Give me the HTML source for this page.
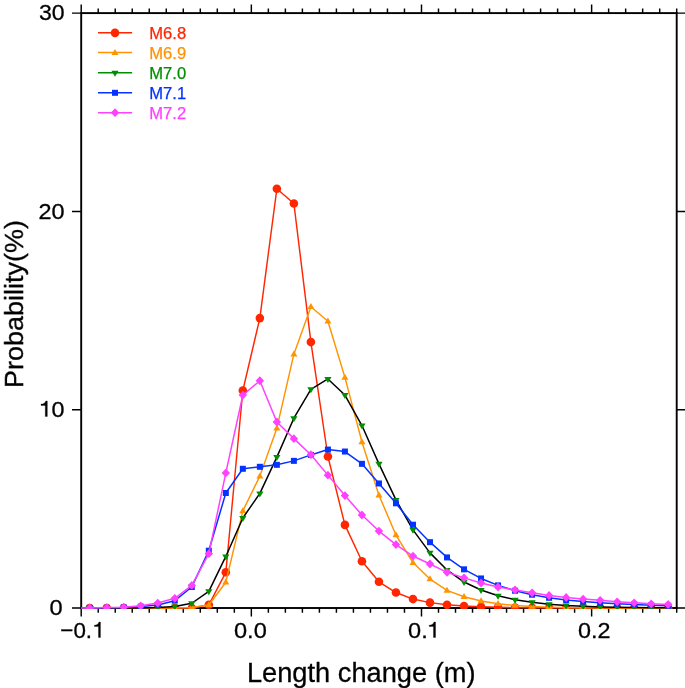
<!DOCTYPE html>
<html><head><meta charset="utf-8"><title>Length change probability</title>
<style>html,body{margin:0;padding:0;background:#fff;}body{width:685px;height:688px;overflow:hidden;font-family:"Liberation Sans",sans-serif;}svg{display:block}</style>
</head><body>
<svg width="685" height="688" viewBox="0 0 685 688" font-family="Liberation Sans, sans-serif" fill="#000">
<defs><clipPath id="clip"><rect x="81.2" y="13.1" width="595.50" height="595.90"/></clipPath></defs>
<rect width="685" height="688" fill="#fff"/>
<rect x="81.2" y="13.1" width="595.50" height="594.90" fill="none" stroke="#000" stroke-width="1.9"/>
<path d="M81.20 608.0v8.6 M81.20 13.1v-8.6 M98.21 608.0v4.7 M98.21 13.1v-4.7 M115.23 608.0v4.7 M115.23 13.1v-4.7 M132.24 608.0v4.7 M132.24 13.1v-4.7 M149.26 608.0v4.7 M149.26 13.1v-4.7 M166.27 608.0v4.7 M166.27 13.1v-4.7 M183.29 608.0v4.7 M183.29 13.1v-4.7 M200.30 608.0v4.7 M200.30 13.1v-4.7 M217.31 608.0v4.7 M217.31 13.1v-4.7 M234.33 608.0v4.7 M234.33 13.1v-4.7 M251.34 608.0v8.6 M251.34 13.1v-8.6 M268.36 608.0v4.7 M268.36 13.1v-4.7 M285.37 608.0v4.7 M285.37 13.1v-4.7 M302.39 608.0v4.7 M302.39 13.1v-4.7 M319.40 608.0v4.7 M319.40 13.1v-4.7 M336.41 608.0v4.7 M336.41 13.1v-4.7 M353.43 608.0v4.7 M353.43 13.1v-4.7 M370.44 608.0v4.7 M370.44 13.1v-4.7 M387.46 608.0v4.7 M387.46 13.1v-4.7 M404.47 608.0v4.7 M404.47 13.1v-4.7 M421.49 608.0v8.6 M421.49 13.1v-8.6 M438.50 608.0v4.7 M438.50 13.1v-4.7 M455.51 608.0v4.7 M455.51 13.1v-4.7 M472.53 608.0v4.7 M472.53 13.1v-4.7 M489.54 608.0v4.7 M489.54 13.1v-4.7 M506.56 608.0v4.7 M506.56 13.1v-4.7 M523.57 608.0v4.7 M523.57 13.1v-4.7 M540.59 608.0v4.7 M540.59 13.1v-4.7 M557.60 608.0v4.7 M557.60 13.1v-4.7 M574.61 608.0v4.7 M574.61 13.1v-4.7 M591.63 608.0v8.6 M591.63 13.1v-8.6 M608.64 608.0v4.7 M608.64 13.1v-4.7 M625.66 608.0v4.7 M625.66 13.1v-4.7 M642.67 608.0v4.7 M642.67 13.1v-4.7 M659.69 608.0v4.7 M659.69 13.1v-4.7 M676.70 608.0v4.7 M676.70 13.1v-4.7 M81.2 608.00h-9.2 M676.7 608.00h9.2 M81.2 409.70h-9.2 M676.7 409.70h9.2 M81.2 211.40h-9.2 M676.7 211.40h9.2 M81.2 13.10h-9.2 M676.7 13.10h9.2" stroke="#000" stroke-width="1.45" fill="none"/>
<g clip-path="url(#clip)">
<polyline points="72.69,608.00 89.71,608.00 106.72,608.00 123.74,608.00 140.75,608.00 157.76,608.00 174.78,608.00 191.79,608.00 208.81,604.83 225.82,572.31 242.84,390.46 259.85,318.09 276.86,188.79 293.88,203.47 310.89,342.08 327.91,456.50 344.92,524.91 361.94,561.20 378.95,581.82 395.96,592.53 412.98,599.08 429.99,602.65 447.01,604.83 464.02,606.02 481.04,606.81 498.05,607.31 515.06,607.60 532.08,607.76 549.09,607.84 566.11,607.90 583.12,607.94 600.14,607.96 617.15,608.00 634.16,608.00 651.18,608.00 668.19,608.00" fill="none" stroke="#ff2600" stroke-width="1.45" stroke-linejoin="round"/>
<circle cx="89.71" cy="608.00" r="4.3" fill="#ff2600"/>
<circle cx="106.72" cy="608.00" r="4.3" fill="#ff2600"/>
<circle cx="123.74" cy="608.00" r="4.3" fill="#ff2600"/>
<circle cx="140.75" cy="608.00" r="4.3" fill="#ff2600"/>
<circle cx="157.76" cy="608.00" r="4.3" fill="#ff2600"/>
<circle cx="174.78" cy="608.00" r="4.3" fill="#ff2600"/>
<circle cx="191.79" cy="608.00" r="4.3" fill="#ff2600"/>
<circle cx="208.81" cy="604.83" r="4.3" fill="#ff2600"/>
<circle cx="225.82" cy="572.31" r="4.3" fill="#ff2600"/>
<circle cx="242.84" cy="390.46" r="4.3" fill="#ff2600"/>
<circle cx="259.85" cy="318.09" r="4.3" fill="#ff2600"/>
<circle cx="276.86" cy="188.79" r="4.3" fill="#ff2600"/>
<circle cx="293.88" cy="203.47" r="4.3" fill="#ff2600"/>
<circle cx="310.89" cy="342.08" r="4.3" fill="#ff2600"/>
<circle cx="327.91" cy="456.50" r="4.3" fill="#ff2600"/>
<circle cx="344.92" cy="524.91" r="4.3" fill="#ff2600"/>
<circle cx="361.94" cy="561.20" r="4.3" fill="#ff2600"/>
<circle cx="378.95" cy="581.82" r="4.3" fill="#ff2600"/>
<circle cx="395.96" cy="592.53" r="4.3" fill="#ff2600"/>
<circle cx="412.98" cy="599.08" r="4.3" fill="#ff2600"/>
<circle cx="429.99" cy="602.65" r="4.3" fill="#ff2600"/>
<circle cx="447.01" cy="604.83" r="4.3" fill="#ff2600"/>
<circle cx="464.02" cy="606.02" r="4.3" fill="#ff2600"/>
<circle cx="481.04" cy="606.81" r="4.3" fill="#ff2600"/>
<circle cx="498.05" cy="607.31" r="4.3" fill="#ff2600"/>
<circle cx="515.06" cy="607.60" r="4.3" fill="#ff2600"/>
<circle cx="532.08" cy="607.76" r="4.3" fill="#ff2600"/>
<circle cx="549.09" cy="607.84" r="4.3" fill="#ff2600"/>
<circle cx="566.11" cy="607.90" r="4.3" fill="#ff2600"/>
<circle cx="583.12" cy="607.94" r="4.3" fill="#ff2600"/>
<circle cx="600.14" cy="607.96" r="4.3" fill="#ff2600"/>
<circle cx="617.15" cy="608.00" r="4.3" fill="#ff2600"/>
<circle cx="634.16" cy="608.00" r="4.3" fill="#ff2600"/>
<circle cx="651.18" cy="608.00" r="4.3" fill="#ff2600"/>
<circle cx="668.19" cy="608.00" r="4.3" fill="#ff2600"/>
<polyline points="72.69,608.00 89.71,608.00 106.72,608.00 123.74,608.00 140.75,608.00 157.76,608.00 174.78,607.90 191.79,607.41 208.81,605.03 225.82,582.22 242.84,510.83 259.85,476.13 276.86,428.14 293.88,354.18 310.89,306.78 327.91,321.26 344.92,377.38 361.94,442.02 378.95,495.17 395.96,535.03 412.98,562.59 429.99,579.05 447.01,590.35 464.02,596.70 481.04,601.06 498.05,603.74 515.06,605.42 532.08,606.41 549.09,607.11 566.11,607.56 583.12,607.76 600.14,607.88 617.15,607.94 634.16,607.96 651.18,607.98 668.19,608.00" fill="none" stroke="#ff9300" stroke-width="1.45" stroke-linejoin="round"/>
<path d="M86.21 610.30L93.21 610.30L89.71 604.30Z" fill="#ff9300"/>
<path d="M103.22 610.30L110.22 610.30L106.72 604.30Z" fill="#ff9300"/>
<path d="M120.24 610.30L127.24 610.30L123.74 604.30Z" fill="#ff9300"/>
<path d="M137.25 610.30L144.25 610.30L140.75 604.30Z" fill="#ff9300"/>
<path d="M154.26 610.30L161.26 610.30L157.76 604.30Z" fill="#ff9300"/>
<path d="M171.28 610.20L178.28 610.20L174.78 604.20Z" fill="#ff9300"/>
<path d="M188.29 609.71L195.29 609.71L191.79 603.71Z" fill="#ff9300"/>
<path d="M205.31 607.33L212.31 607.33L208.81 601.33Z" fill="#ff9300"/>
<path d="M222.32 584.52L229.32 584.52L225.82 578.52Z" fill="#ff9300"/>
<path d="M239.34 513.13L246.34 513.13L242.84 507.13Z" fill="#ff9300"/>
<path d="M256.35 478.43L263.35 478.43L259.85 472.43Z" fill="#ff9300"/>
<path d="M273.36 430.44L280.36 430.44L276.86 424.44Z" fill="#ff9300"/>
<path d="M290.38 356.48L297.38 356.48L293.88 350.48Z" fill="#ff9300"/>
<path d="M307.39 309.08L314.39 309.08L310.89 303.08Z" fill="#ff9300"/>
<path d="M324.41 323.56L331.41 323.56L327.91 317.56Z" fill="#ff9300"/>
<path d="M341.42 379.68L348.42 379.68L344.92 373.68Z" fill="#ff9300"/>
<path d="M358.44 444.32L365.44 444.32L361.94 438.32Z" fill="#ff9300"/>
<path d="M375.45 497.47L382.45 497.47L378.95 491.47Z" fill="#ff9300"/>
<path d="M392.46 537.33L399.46 537.33L395.96 531.33Z" fill="#ff9300"/>
<path d="M409.48 564.89L416.48 564.89L412.98 558.89Z" fill="#ff9300"/>
<path d="M426.49 581.35L433.49 581.35L429.99 575.35Z" fill="#ff9300"/>
<path d="M443.51 592.65L450.51 592.65L447.01 586.65Z" fill="#ff9300"/>
<path d="M460.52 599.00L467.52 599.00L464.02 593.00Z" fill="#ff9300"/>
<path d="M477.54 603.36L484.54 603.36L481.04 597.36Z" fill="#ff9300"/>
<path d="M494.55 606.04L501.55 606.04L498.05 600.04Z" fill="#ff9300"/>
<path d="M511.56 607.72L518.56 607.72L515.06 601.72Z" fill="#ff9300"/>
<path d="M528.58 608.71L535.58 608.71L532.08 602.71Z" fill="#ff9300"/>
<path d="M545.59 609.41L552.59 609.41L549.09 603.41Z" fill="#ff9300"/>
<path d="M562.61 609.86L569.61 609.86L566.11 603.86Z" fill="#ff9300"/>
<path d="M579.62 610.06L586.62 610.06L583.12 604.06Z" fill="#ff9300"/>
<path d="M596.64 610.18L603.64 610.18L600.14 604.18Z" fill="#ff9300"/>
<path d="M613.65 610.24L620.65 610.24L617.15 604.24Z" fill="#ff9300"/>
<path d="M630.66 610.26L637.66 610.26L634.16 604.26Z" fill="#ff9300"/>
<path d="M647.68 610.28L654.68 610.28L651.18 604.28Z" fill="#ff9300"/>
<path d="M664.69 610.30L671.69 610.30L668.19 604.30Z" fill="#ff9300"/>
<polyline points="72.69,608.00 89.71,608.00 106.72,608.00 123.74,608.00 140.75,607.90 157.76,607.60 174.78,606.41 191.79,603.24 208.81,591.34 225.82,556.44 242.84,517.97 259.85,493.38 276.86,457.09 293.88,418.23 310.89,389.28 327.91,378.96 344.92,395.03 361.94,425.56 378.95,463.84 395.96,499.93 412.98,529.87 429.99,552.87 447.01,569.93 464.02,582.02 481.04,589.95 498.05,595.71 515.06,599.67 532.08,602.35 549.09,604.33 566.11,605.52 583.12,606.31 600.14,606.91 617.15,607.27 634.16,607.50 651.18,607.66 668.19,607.78" fill="none" stroke="#000000" stroke-width="1.5" stroke-linejoin="round"/>
<path d="M86.11 606.00L93.31 606.00L89.71 612.00Z" fill="#008f00"/>
<path d="M103.12 606.00L110.32 606.00L106.72 612.00Z" fill="#008f00"/>
<path d="M120.14 606.00L127.34 606.00L123.74 612.00Z" fill="#008f00"/>
<path d="M137.15 605.90L144.35 605.90L140.75 611.90Z" fill="#008f00"/>
<path d="M154.16 605.60L161.36 605.60L157.76 611.60Z" fill="#008f00"/>
<path d="M171.18 604.41L178.38 604.41L174.78 610.41Z" fill="#008f00"/>
<path d="M188.19 601.24L195.39 601.24L191.79 607.24Z" fill="#008f00"/>
<path d="M205.21 589.34L212.41 589.34L208.81 595.34Z" fill="#008f00"/>
<path d="M222.22 554.44L229.42 554.44L225.82 560.44Z" fill="#008f00"/>
<path d="M239.24 515.97L246.44 515.97L242.84 521.97Z" fill="#008f00"/>
<path d="M256.25 491.38L263.45 491.38L259.85 497.38Z" fill="#008f00"/>
<path d="M273.26 455.09L280.46 455.09L276.86 461.09Z" fill="#008f00"/>
<path d="M290.28 416.23L297.48 416.23L293.88 422.23Z" fill="#008f00"/>
<path d="M307.29 387.28L314.49 387.28L310.89 393.28Z" fill="#008f00"/>
<path d="M324.31 376.96L331.51 376.96L327.91 382.96Z" fill="#008f00"/>
<path d="M341.32 393.03L348.52 393.03L344.92 399.03Z" fill="#008f00"/>
<path d="M358.34 423.56L365.54 423.56L361.94 429.56Z" fill="#008f00"/>
<path d="M375.35 461.84L382.55 461.84L378.95 467.84Z" fill="#008f00"/>
<path d="M392.36 497.93L399.56 497.93L395.96 503.93Z" fill="#008f00"/>
<path d="M409.38 527.87L416.58 527.87L412.98 533.87Z" fill="#008f00"/>
<path d="M426.39 550.87L433.59 550.87L429.99 556.87Z" fill="#008f00"/>
<path d="M443.41 567.93L450.61 567.93L447.01 573.93Z" fill="#008f00"/>
<path d="M460.42 580.02L467.62 580.02L464.02 586.02Z" fill="#008f00"/>
<path d="M477.44 587.95L484.64 587.95L481.04 593.95Z" fill="#008f00"/>
<path d="M494.45 593.71L501.65 593.71L498.05 599.71Z" fill="#008f00"/>
<path d="M511.46 597.67L518.66 597.67L515.06 603.67Z" fill="#008f00"/>
<path d="M528.48 600.35L535.68 600.35L532.08 606.35Z" fill="#008f00"/>
<path d="M545.49 602.33L552.69 602.33L549.09 608.33Z" fill="#008f00"/>
<path d="M562.51 603.52L569.71 603.52L566.11 609.52Z" fill="#008f00"/>
<path d="M579.52 604.31L586.72 604.31L583.12 610.31Z" fill="#008f00"/>
<path d="M596.54 604.91L603.74 604.91L600.14 610.91Z" fill="#008f00"/>
<path d="M613.55 605.27L620.75 605.27L617.15 611.27Z" fill="#008f00"/>
<path d="M630.56 605.50L637.76 605.50L634.16 611.50Z" fill="#008f00"/>
<path d="M647.58 605.66L654.78 605.66L651.18 611.66Z" fill="#008f00"/>
<path d="M664.59 605.78L671.79 605.78L668.19 611.78Z" fill="#008f00"/>
<polyline points="72.69,607.92 89.71,607.90 106.72,607.80 123.74,607.41 140.75,606.61 157.76,605.03 174.78,600.66 191.79,586.98 208.81,550.69 225.82,492.99 242.84,468.79 259.85,466.81 276.86,464.83 293.88,460.86 310.89,454.91 327.91,449.56 344.92,451.54 361.94,463.84 378.95,483.47 395.96,503.30 412.98,524.71 429.99,542.16 447.01,557.43 464.02,569.33 481.04,578.45 498.05,585.39 515.06,590.75 532.08,594.71 549.09,597.79 566.11,599.97 583.12,601.56 600.14,602.75 617.15,603.74 634.16,604.53 651.18,605.22 668.19,605.82" fill="none" stroke="#0433ff" stroke-width="1.5" stroke-linejoin="round"/>
<rect x="86.71" y="604.90" width="6.0" height="6.0" fill="#0433ff"/>
<rect x="103.72" y="604.80" width="6.0" height="6.0" fill="#0433ff"/>
<rect x="120.74" y="604.41" width="6.0" height="6.0" fill="#0433ff"/>
<rect x="137.75" y="603.61" width="6.0" height="6.0" fill="#0433ff"/>
<rect x="154.76" y="602.03" width="6.0" height="6.0" fill="#0433ff"/>
<rect x="171.78" y="597.66" width="6.0" height="6.0" fill="#0433ff"/>
<rect x="188.79" y="583.98" width="6.0" height="6.0" fill="#0433ff"/>
<rect x="205.81" y="547.69" width="6.0" height="6.0" fill="#0433ff"/>
<rect x="222.82" y="489.99" width="6.0" height="6.0" fill="#0433ff"/>
<rect x="239.84" y="465.79" width="6.0" height="6.0" fill="#0433ff"/>
<rect x="256.85" y="463.81" width="6.0" height="6.0" fill="#0433ff"/>
<rect x="273.86" y="461.83" width="6.0" height="6.0" fill="#0433ff"/>
<rect x="290.88" y="457.86" width="6.0" height="6.0" fill="#0433ff"/>
<rect x="307.89" y="451.91" width="6.0" height="6.0" fill="#0433ff"/>
<rect x="324.91" y="446.56" width="6.0" height="6.0" fill="#0433ff"/>
<rect x="341.92" y="448.54" width="6.0" height="6.0" fill="#0433ff"/>
<rect x="358.94" y="460.84" width="6.0" height="6.0" fill="#0433ff"/>
<rect x="375.95" y="480.47" width="6.0" height="6.0" fill="#0433ff"/>
<rect x="392.96" y="500.30" width="6.0" height="6.0" fill="#0433ff"/>
<rect x="409.98" y="521.71" width="6.0" height="6.0" fill="#0433ff"/>
<rect x="426.99" y="539.16" width="6.0" height="6.0" fill="#0433ff"/>
<rect x="444.01" y="554.43" width="6.0" height="6.0" fill="#0433ff"/>
<rect x="461.02" y="566.33" width="6.0" height="6.0" fill="#0433ff"/>
<rect x="478.04" y="575.45" width="6.0" height="6.0" fill="#0433ff"/>
<rect x="495.05" y="582.39" width="6.0" height="6.0" fill="#0433ff"/>
<rect x="512.06" y="587.75" width="6.0" height="6.0" fill="#0433ff"/>
<rect x="529.08" y="591.71" width="6.0" height="6.0" fill="#0433ff"/>
<rect x="546.09" y="594.79" width="6.0" height="6.0" fill="#0433ff"/>
<rect x="563.11" y="596.97" width="6.0" height="6.0" fill="#0433ff"/>
<rect x="580.12" y="598.56" width="6.0" height="6.0" fill="#0433ff"/>
<rect x="597.14" y="599.75" width="6.0" height="6.0" fill="#0433ff"/>
<rect x="614.15" y="600.74" width="6.0" height="6.0" fill="#0433ff"/>
<rect x="631.16" y="601.53" width="6.0" height="6.0" fill="#0433ff"/>
<rect x="648.18" y="602.22" width="6.0" height="6.0" fill="#0433ff"/>
<rect x="665.19" y="602.82" width="6.0" height="6.0" fill="#0433ff"/>
<polyline points="72.69,607.92 89.71,607.90 106.72,607.60 123.74,607.21 140.75,605.82 157.76,603.04 174.78,598.28 191.79,585.39 208.81,553.67 225.82,472.96 242.84,395.03 259.85,380.75 276.86,421.99 293.88,438.65 310.89,454.71 327.91,475.14 344.92,495.56 361.94,515.00 378.95,531.06 395.96,544.54 412.98,556.05 429.99,563.98 447.01,572.31 464.02,577.86 481.04,583.01 498.05,586.98 515.06,589.95 532.08,592.83 549.09,595.51 566.11,597.49 583.12,599.08 600.14,600.37 617.15,601.85 634.16,602.84 651.18,603.84 668.19,604.43" fill="none" stroke="#ff40ff" stroke-width="1.5" stroke-linejoin="round"/>
<path d="M85.51 607.90L89.71 603.50L93.91 607.90L89.71 612.30Z" fill="#ff40ff"/>
<path d="M102.52 607.60L106.72 603.20L110.92 607.60L106.72 612.00Z" fill="#ff40ff"/>
<path d="M119.54 607.21L123.74 602.81L127.94 607.21L123.74 611.61Z" fill="#ff40ff"/>
<path d="M136.55 605.82L140.75 601.42L144.95 605.82L140.75 610.22Z" fill="#ff40ff"/>
<path d="M153.56 603.04L157.76 598.64L161.96 603.04L157.76 607.44Z" fill="#ff40ff"/>
<path d="M170.58 598.28L174.78 593.88L178.98 598.28L174.78 602.68Z" fill="#ff40ff"/>
<path d="M187.59 585.39L191.79 580.99L195.99 585.39L191.79 589.79Z" fill="#ff40ff"/>
<path d="M204.61 553.67L208.81 549.27L213.01 553.67L208.81 558.07Z" fill="#ff40ff"/>
<path d="M221.62 472.96L225.82 468.56L230.02 472.96L225.82 477.36Z" fill="#ff40ff"/>
<path d="M238.64 395.03L242.84 390.63L247.04 395.03L242.84 399.43Z" fill="#ff40ff"/>
<path d="M255.65 380.75L259.85 376.35L264.05 380.75L259.85 385.15Z" fill="#ff40ff"/>
<path d="M272.66 421.99L276.86 417.59L281.06 421.99L276.86 426.39Z" fill="#ff40ff"/>
<path d="M289.68 438.65L293.88 434.25L298.08 438.65L293.88 443.05Z" fill="#ff40ff"/>
<path d="M306.69 454.71L310.89 450.31L315.09 454.71L310.89 459.11Z" fill="#ff40ff"/>
<path d="M323.71 475.14L327.91 470.74L332.11 475.14L327.91 479.54Z" fill="#ff40ff"/>
<path d="M340.72 495.56L344.92 491.16L349.12 495.56L344.92 499.96Z" fill="#ff40ff"/>
<path d="M357.74 515.00L361.94 510.60L366.14 515.00L361.94 519.40Z" fill="#ff40ff"/>
<path d="M374.75 531.06L378.95 526.66L383.15 531.06L378.95 535.46Z" fill="#ff40ff"/>
<path d="M391.76 544.54L395.96 540.14L400.16 544.54L395.96 548.94Z" fill="#ff40ff"/>
<path d="M408.78 556.05L412.98 551.65L417.18 556.05L412.98 560.45Z" fill="#ff40ff"/>
<path d="M425.79 563.98L429.99 559.58L434.19 563.98L429.99 568.38Z" fill="#ff40ff"/>
<path d="M442.81 572.31L447.01 567.91L451.21 572.31L447.01 576.71Z" fill="#ff40ff"/>
<path d="M459.82 577.86L464.02 573.46L468.22 577.86L464.02 582.26Z" fill="#ff40ff"/>
<path d="M476.84 583.01L481.04 578.61L485.24 583.01L481.04 587.41Z" fill="#ff40ff"/>
<path d="M493.85 586.98L498.05 582.58L502.25 586.98L498.05 591.38Z" fill="#ff40ff"/>
<path d="M510.86 589.95L515.06 585.55L519.26 589.95L515.06 594.35Z" fill="#ff40ff"/>
<path d="M527.88 592.83L532.08 588.43L536.28 592.83L532.08 597.23Z" fill="#ff40ff"/>
<path d="M544.89 595.51L549.09 591.11L553.29 595.51L549.09 599.91Z" fill="#ff40ff"/>
<path d="M561.91 597.49L566.11 593.09L570.31 597.49L566.11 601.89Z" fill="#ff40ff"/>
<path d="M578.92 599.08L583.12 594.68L587.32 599.08L583.12 603.48Z" fill="#ff40ff"/>
<path d="M595.94 600.37L600.14 595.97L604.34 600.37L600.14 604.77Z" fill="#ff40ff"/>
<path d="M612.95 601.85L617.15 597.45L621.35 601.85L617.15 606.25Z" fill="#ff40ff"/>
<path d="M629.96 602.84L634.16 598.44L638.36 602.84L634.16 607.24Z" fill="#ff40ff"/>
<path d="M646.98 603.84L651.18 599.44L655.38 603.84L651.18 608.24Z" fill="#ff40ff"/>
<path d="M663.99 604.43L668.19 600.03L672.39 604.43L668.19 608.83Z" fill="#ff40ff"/>
</g>
<g opacity="0.999" stroke="#000" stroke-width="0.3">
<g transform="translate(38.90,19.56) scale(1.0484,1.0239)" font-size="22"><text>30</text></g>
<g transform="translate(38.48,218.63) scale(1.0659,1.0353)" font-size="22"><text>20</text></g>
<g transform="translate(38.63,416.56) scale(1.0598,1.0390)" font-size="22"><path transform="translate(0.000,0) scale(0.022,-0.0212)" d="M285 0L285 505L102 505L102 566C205 572 272 600 308 709L373 709L373 0Z" stroke-width="13.6"/><text x="12.232">0</text></g>
<g transform="translate(49.49,614.76) scale(1.0744,1.0359)" font-size="22"><text>0</text></g>
<g transform="translate(60.35,637.56) scale(1.0175,1.0327)" font-size="22"><text>−0.</text><path transform="translate(31.196,0) scale(0.022,-0.0212)" d="M285 0L285 505L102 505L102 566C205 572 272 600 308 709L373 709L373 0Z" stroke-width="13.6"/></g>
<g transform="translate(234.00,637.56) scale(1.0728,1.0327)" font-size="22"><text>0.0</text></g>
<g transform="translate(408.10,637.56) scale(1.0698,1.0327)" font-size="22"><text>0.</text><path transform="translate(17.448,0) scale(0.022,-0.0212)" d="M285 0L285 505L102 505L102 566C205 572 272 600 308 709L373 709L373 0Z" stroke-width="13.6"/></g>
<g transform="translate(578.10,637.56) scale(1.0617,1.0327)" font-size="22"><text>0.2</text></g>
<text transform="translate(246.9,682) scale(1,1.035)" font-size="27.25">Length change (m)</text>
<text transform="translate(23.45,388) rotate(-90) scale(1,0.975)" text-anchor="start" font-size="27">Probability(%)</text>
<text x="149.3" y="38.80" font-size="16.6" fill="#ff2600" stroke="#ff2600" stroke-width="0.25">M6.8</text>
<text x="149.3" y="58.55" font-size="16.6" fill="#ff9300" stroke="#ff9300" stroke-width="0.25">M6.9</text>
<text x="149.3" y="78.71" font-size="16.6" fill="#008f00" stroke="#008f00" stroke-width="0.25">M7.0</text>
<text x="149.3" y="98.75" font-size="16.6" fill="#0433ff" stroke="#0433ff" stroke-width="0.25">M7.1</text>
<text x="149.3" y="118.60" font-size="16.6" fill="#ff40ff" stroke="#ff40ff" stroke-width="0.25">M7.2</text>
</g>
<path d="M98.0 32.85H132.1" stroke="#ff2600" stroke-width="1.5"/>
<circle cx="115.00" cy="32.85" r="4.3" fill="#ff2600"/>
<path d="M98.0 52.60H132.1" stroke="#ff9300" stroke-width="1.5"/>
<path d="M111.50 54.90L118.50 54.90L115.00 48.90Z" fill="#ff9300"/>
<path d="M98.0 72.76H132.1" stroke="#008f00" stroke-width="1.5"/>
<path d="M111.40 70.76L118.60 70.76L115.00 76.76Z" fill="#008f00"/>
<path d="M98.0 92.80H132.1" stroke="#0433ff" stroke-width="1.5"/>
<rect x="112.00" y="89.80" width="6.0" height="6.0" fill="#0433ff"/>
<path d="M98.0 112.65H132.1" stroke="#ff40ff" stroke-width="1.5"/>
<path d="M110.80 112.65L115.00 108.25L119.20 112.65L115.00 117.05Z" fill="#ff40ff"/>
</svg>
</body></html>
